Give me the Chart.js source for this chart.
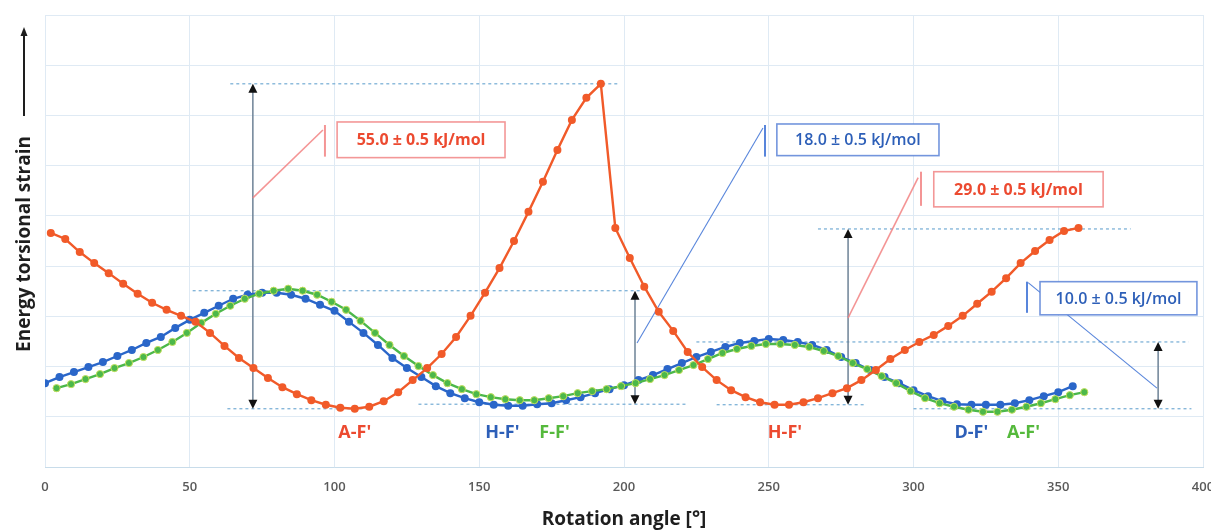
<!DOCTYPE html>
<html>
<head>
<meta charset="utf-8">
<script src="https://cdn.jsdelivr.net/npm/chart.js@4.4.1/dist/chart.umd.min.js"></script>
<style>
html,body{margin:0;padding:0;background:#fff}
#wrap{width:1211px;height:531px}
</style>
</head>
<body>
<div id="wrap"><canvas id="chart" width="1211" height="531"></canvas></div>
<script>
// rotation angle (deg) and energy (arbitrary grid units, 0..90)
const redAngles = [2,7,12,17,22,27,32,37,42,47,52,57,62,67,72,77,82,87,92,97,102,107,112,117,122,127,132,137,142,147,152,157,162,167,172,177,182,187,192,197,202,207,212,217,222,227,232,237,242,247,252,257,262,267,272,277,282,287,292,297,302,307,312,317,322,327,332,337,342,347,352,357];
const redValues = [46.6,45.4,42.8,40.6,38.6,36.5,34.5,32.7,31.3,30.1,28.9,26.7,24.1,21.7,19.7,17.7,15.9,14.5,13.3,12.4,11.8,11.6,12.0,13.1,14.9,17.3,19.7,22.5,25.9,30.1,34.7,39.6,45.0,50.8,56.8,63.1,69.1,73.5,76.3,47.6,41.6,35.9,30.9,27.1,22.9,19.9,17.3,15.3,13.9,12.9,12.4,12.4,12.9,13.7,14.7,15.7,17.3,19.3,21.5,23.3,24.9,26.3,28.1,30.1,32.5,34.9,37.6,40.6,43.0,45.2,47.0,47.6];

const blueAngles = [0,5,10,15,20,25,30,35,40,45,50,55,60,65,70,75,80,85,90,95,100,105,110,115,120,125,130,135,140,145,150,155,160,165,170,175,180,185,190,195,200,205,210,215,220,225,230,235,240,245,250,255,260,265,270,275,280,285,290,295,300,305,310,315,320,325,330,335,340,345,350,355];
const blueValues = [16.7,17.9,18.9,19.9,20.9,22.1,23.3,24.7,25.9,27.7,29.3,30.7,32.1,33.5,34.3,34.7,34.7,34.3,33.5,32.3,31.1,28.9,26.7,24.3,21.7,19.7,17.9,16.1,14.7,13.7,12.9,12.4,12.2,12.2,12.5,12.7,13.3,13.9,14.7,15.5,16.3,17.3,18.3,19.5,20.7,21.9,22.9,23.9,24.7,25.1,25.5,25.3,24.9,24.3,23.3,21.9,20.7,19.3,17.9,16.7,15.3,14.1,13.1,12.5,12.4,12.4,12.4,12.7,13.3,14.1,14.9,16.1];

const greenAngles = [4,9,14,19,24,29,34,39,44,49,54,59,64,69,74,79,84,89,94,99,104,109,114,119,124,129,134,139,144,149,154,159,164,169,174,179,184,189,194,199,204,209,214,219,224,229,234,239,244,249,254,259,264,269,274,279,284,289,294,299,304,309,314,319,324,329,334,339,344,349,354,359];
const greenValues = [15.7,16.5,17.5,18.5,19.7,20.7,21.9,23.3,24.9,26.7,28.7,30.5,32.1,33.5,34.5,35.1,35.5,35.1,34.3,32.9,31.3,29.1,26.7,24.3,22.1,20.1,18.3,16.7,15.5,14.5,13.9,13.5,13.3,13.3,13.7,14.1,14.7,15.1,15.5,16.1,16.7,17.5,18.3,19.3,20.3,21.5,22.7,23.5,24.1,24.5,24.5,24.3,23.9,23.1,22.1,20.7,19.5,18.1,16.7,15.1,13.7,12.7,12.0,11.4,11.0,11.0,11.4,12.0,12.7,13.5,14.3,14.9];

const xTicks = [0,50,100,150,200,250,300,350,400];

const RED = '#f15a29', BLUE = '#2a66c9', GREEN = '#4cb84a';
const RED_TXT = '#ec4a30', BLUE_TXT = '#2d5fb8', GREEN_TXT = '#55b93c';
const FONT = '"Open Sans", "DejaVu Sans", sans-serif';

// barrier annotations (data coordinates)
const guides = [ // [x from, x to, y]
  [64, 198, 76.3], [63, 112, 11.6],
  [51, 206, 35.1], [129, 222, 12.5],
  [267, 375, 47.4], [232, 283, 12.4],
  [225, 395, 24.9], [300, 396, 11.6]
];
const arrows = [ // [x, y low, y high]
  [71.8, 11.6, 76.3], [203.8, 12.5, 35.1], [277.4, 12.4, 47.4], [384.5, 11.6, 24.9]
];
const callouts = [
  {text:'55.0 ± 0.5 kJ/mol', kind:'red',  line:[71.8,53.6, 96,67.1],   bar:[96.7,68.1,61.8], box:[100.9,68.7,158.9,61.6]},
  {text:'18.0 ± 0.5 kJ/mol', kind:'blue', line:[204.5,24.7, 248,67.5], bar:[248.7,68.1,61.8], box:[252.8,68.3,308.8,62.0]},
  {text:'29.0 ± 0.5 kJ/mol', kind:'red',  line:[277.4,29.7, 301.6,57.6], bar:[302.6,58.8,52.0], box:[307,58.8,365.5,51.8]},
  {text:'10.0 ± 0.5 kJ/mol', kind:'blue', line:[339.6,36.7, 384.1,15.7], bar:[339.2,36.9,30.7], box:[343.7,36.9,397.9,30.3]}
];
const tags = [
  {text:"A-F'", x:107, y:6.8, color:RED_TXT},
  {text:"H-F'", x:158, y:6.8, color:BLUE_TXT},
  {text:"F-F'", x:176, y:6.8, color:GREEN_TXT},
  {text:"H-F'", x:255.6, y:6.8, color:RED_TXT},
  {text:"D-F'", x:320, y:6.8, color:BLUE_TXT},
  {text:"A-F'", x:338, y:6.8, color:GREEN_TXT}
];

const pairs = (xs, ys) => xs.map((a, i) => ({x: a, y: ys[i]}));

function arrowHead(ctx, x, y, dir){
  ctx.beginPath();
  ctx.moveTo(x, y);
  ctx.lineTo(x - 4.5, y + dir*9);
  ctx.lineTo(x + 4.5, y + dir*9);
  ctx.closePath();
  ctx.fill();
}

const notes = {
  id: 'notes',
  beforeDatasetsDraw(chart){
    const {ctx, scales:{x, y}} = chart;
    const px = v => x.getPixelForValue(v), py = v => y.getPixelForValue(v);
    ctx.save();
    ctx.strokeStyle = '#74acd4'; ctx.lineWidth = 1.2; ctx.setLineDash([3,3]);
    guides.forEach(g=>{ ctx.beginPath(); ctx.moveTo(px(g[0]), py(g[2])); ctx.lineTo(px(g[1]), py(g[2])); ctx.stroke(); });
    ctx.setLineDash([]);
    arrows.forEach(a=>{
      const ax = px(a[0]), y1 = py(a[1]), y2 = py(a[2]);
      ctx.strokeStyle = '#6d8296'; ctx.lineWidth = 1.5;
      ctx.beginPath(); ctx.moveTo(ax, y1 - 6); ctx.lineTo(ax, y2 + 6); ctx.stroke();
      ctx.fillStyle = '#111';
      arrowHead(ctx, ax, y2, 1);
      arrowHead(ctx, ax, y1, -1);
    });
    callouts.forEach(c=>{
      const lineCol = c.kind==='red' ? 'rgba(242,130,130,0.85)' : 'rgba(70,120,215,0.9)';
      const boxCol = c.kind==='red' ? 'rgba(242,140,140,0.9)' : 'rgba(90,130,215,0.85)';
      ctx.strokeStyle = lineCol; ctx.lineWidth = c.kind==='red' ? 1.6 : 1.1;
      ctx.beginPath(); ctx.moveTo(px(c.line[0]), py(c.line[1])); ctx.lineTo(px(c.line[2]), py(c.line[3])); ctx.stroke();
      ctx.lineWidth = 2;
      ctx.beginPath(); ctx.moveTo(px(c.bar[0]), py(c.bar[1])); ctx.lineTo(px(c.bar[0]), py(c.bar[2])); ctx.stroke();
      const bx = px(c.box[0]), by = py(c.box[1]), bw = px(c.box[2]) - bx, bh = py(c.box[3]) - by;
      ctx.fillStyle = '#fff'; ctx.fillRect(bx, by, bw, bh);
      ctx.strokeStyle = boxCol; ctx.lineWidth = 1.6;
      ctx.strokeRect(bx, by, bw, bh);
      ctx.fillStyle = c.kind==='red' ? RED_TXT : BLUE_TXT;
      ctx.font = (c.kind==='red' ? '700 ' : '600 ') + '16px ' + FONT;
      ctx.textAlign = 'center'; ctx.textBaseline = 'middle';
      ctx.fillText(c.text, bx + bw/2, by + bh/2 + 1);
    });
    ctx.restore();
  },
  afterDraw(chart){
    const {ctx, chartArea, scales:{x, y}} = chart;
    ctx.save();
    ctx.textAlign = 'center'; ctx.textBaseline = 'middle';
    ctx.font = '700 18px ' + FONT;
    tags.forEach(t=>{ ctx.fillStyle = t.color; ctx.fillText(t.text, x.getPixelForValue(t.x), y.getPixelForValue(t.y)); });
    // y axis title with arrow
    const label = 'Energy torsional strain';
    ctx.font = '700 19px ' + FONT;
    const cy = (chartArea.top + chartArea.bottom)/2 + 3;
    const w = ctx.measureText(label).width;
    ctx.fillStyle = '#1e1e1e';
    ctx.translate(25, cy); ctx.rotate(-Math.PI/2);
    ctx.fillText(label, 0, 0);
    ctx.setTransform(1,0,0,1,0,0);
    const top = cy - w/2 - 20;
    ctx.strokeStyle = '#1e1e1e'; ctx.lineWidth = 2;
    ctx.beginPath(); ctx.moveTo(24, top); ctx.lineTo(24, 34); ctx.stroke();
    ctx.fillStyle = '#1e1e1e';
    ctx.beginPath(); ctx.moveTo(24, 27); ctx.lineTo(20.5, 36); ctx.lineTo(27.5, 36); ctx.closePath(); ctx.fill();
    ctx.restore();
  }
};

const line = (data, color, extra) => Object.assign({
  data, borderColor: color, backgroundColor: color, pointBackgroundColor: color,
  pointBorderColor: color, borderWidth: 2.4, pointRadius: 4, pointBorderWidth: 0,
  tension: 0, showLine: true
}, extra || {});

const chart = new Chart(document.getElementById('chart'), {
  type: 'line',
  data: {
    datasets: [
      line(pairs(redAngles, redValues), RED),
      line(pairs(greenAngles, greenValues), GREEN, {pointBorderColor:'#c3df5c', pointBorderWidth:1, pointRadius:3.6}),
      line(pairs(blueAngles, blueValues), BLUE)
    ]
  },
  options: {
    responsive: false,
    animation: false,
    devicePixelRatio: 1,
    layout: { padding: { top: 15, right: 8, left: 0, bottom: 0 } },
    plugins: { legend: { display: false }, tooltip: { enabled: false } },
    scales: {
      x: {
        type: 'linear', min: 0, max: 400,
        afterBuildTicks: s => { s.ticks = xTicks.map(v => ({value: v})); },
        ticks: { color: '#5a5a5a', padding: 12, font: { family: FONT, size: 13, weight: '600' } },
        grid: { color: '#dfeaf4', drawTicks: false },
        border: { color: '#c8dcea' },
        title: { display: true, text: 'Rotation angle [°]', color: '#1e1e1e', padding: { top: 0, bottom: 0 },
                 font: { family: FONT, size: 19, weight: '700' } },
        afterFit: s => { s.height = 64; s.paddingLeft = 0; s.paddingRight = 0; }
      },
      y: {
        min: 0, max: 90,
        ticks: { stepSize: 10, display: false },
        grid: { color: '#dfeaf4', drawTicks: false },
        border: { display: false },
        afterFit: s => { s.width = 45; }
      }
    }
  },
  plugins: [notes]
});
</script>
</body>
</html>
